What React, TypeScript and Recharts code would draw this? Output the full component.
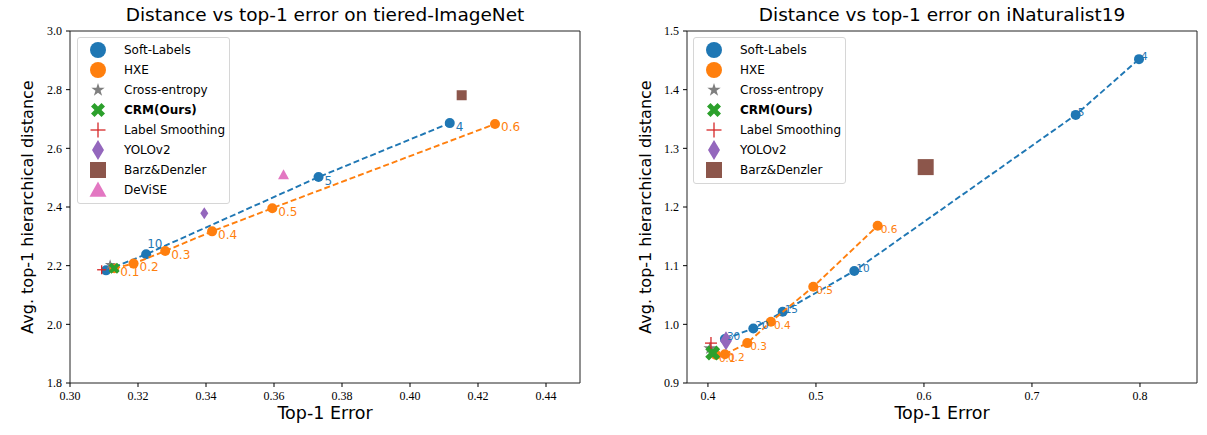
import React from 'react';
import { ScatterChart, Scatter, XAxis, YAxis, ReferenceArea } from 'recharts';

const COLORS = {
  blue: '#1f77b4', orange: '#ff7f0e', gray: '#7f7f7f', green: '#2ca02c',
  red: '#d62728', purple: '#9467bd', brown: '#8c564b', pink: '#e377c2',
};

// ---------- tiered-ImageNet ----------
const tieredSoftLabels = [
  { x: 0.3106, y: 2.184, label: '' },
  { x: 0.3224, y: 2.239, label: '10' },
  { x: 0.3731, y: 2.502, label: '5' },
  { x: 0.4117, y: 2.686, label: '4' },
];
const tieredHXE = [
  { x: 0.3130, y: 2.191, label: '0.1' },
  { x: 0.3187, y: 2.207, label: '0.2' },
  { x: 0.3280, y: 2.250, label: '0.3' },
  { x: 0.3418, y: 2.317, label: '0.4' },
  { x: 0.3595, y: 2.396, label: '0.5' },
  { x: 0.4250, y: 2.683, label: '0.6' },
];
const tieredCrossEntropy = [{ x: 0.3118, y: 2.203 }];
const tieredCRM = [{ x: 0.3130, y: 2.191 }];
const tieredLabelSmoothing = [{ x: 0.3093, y: 2.186 }];
const tieredYOLO = [{ x: 0.3395, y: 2.379 }];
const tieredBarz = [{ x: 0.4152, y: 2.781 }];
const tieredDeViSE = [{ x: 0.3628, y: 2.510 }];
const tieredXTicks = [0.30, 0.32, 0.34, 0.36, 0.38, 0.40, 0.42, 0.44];
const tieredYTicks = [1.8, 2.0, 2.2, 2.4, 2.6, 2.8, 3.0];

// ---------- iNaturalist19 ----------
const inatSoftLabels = [
  { x: 0.4157, y: 0.975, label: '30' },
  { x: 0.4420, y: 0.993, label: '20' },
  { x: 0.4692, y: 1.0215, label: '15' },
  { x: 0.5355, y: 1.091, label: '10' },
  { x: 0.7405, y: 1.357, label: '5' },
  { x: 0.7991, y: 1.452, label: '4' },
];
const inatHXE = [
  { x: 0.4074, y: 0.948, label: '0.1' },
  { x: 0.4157, y: 0.949, label: '0.2' },
  { x: 0.4364, y: 0.968, label: '0.3' },
  { x: 0.4583, y: 1.0045, label: '0.4' },
  { x: 0.4975, y: 1.064, label: '0.5' },
  { x: 0.5571, y: 1.168, label: '0.6' },
];
const inatCrossEntropy = [{ x: 0.4019, y: 0.959 }];
const inatCRM = [{ x: 0.4044, y: 0.951 }];
const inatLabelSmoothing = [{ x: 0.4028, y: 0.968 }];
const inatYOLO = [{ x: 0.4167, y: 0.972 }];
const inatBarz = [{ x: 0.6016, y: 1.268 }];
const inatXTicks = [0.4, 0.5, 0.6, 0.7, 0.8];
const inatYTicks = [0.9, 1.0, 1.1, 1.2, 1.3, 1.4, 1.5];

const SANS = '"DejaVu Sans", sans-serif';
const SERIF = '"Liberation Serif", serif';

type Kind = 'circle' | 'star' | 'x' | 'plus' | 'diamond' | 'square' | 'triangle';

function Glyph({ kind, color, cx, cy, s, w }: { kind: Kind; color: string; cx: number; cy: number; s: number; w?: number }) {
  const h = s / 2;
  if (kind === 'circle') return <circle cx={cx} cy={cy} r={h} fill={color} />;
  if (kind === 'square') return <rect x={cx - h} y={cy - h} width={s} height={s} fill={color} />;
  if (kind === 'triangle')
    return <polygon points={`${cx},${cy - h} ${cx + h},${cy + h * 0.8} ${cx - h},${cy + h * 0.8}`} fill={color} />;
  if (kind === 'diamond') {
    const hw = (w ?? s * 0.6) / 2;
    return <polygon points={`${cx},${cy - h} ${cx + hw},${cy} ${cx},${cy + h} ${cx - hw},${cy}`} fill={color} />;
  }
  if (kind === 'plus')
    return (
      <g stroke={color} strokeWidth={1.3}>
        <line x1={cx - h} y1={cy} x2={cx + h} y2={cy} />
        <line x1={cx} y1={cy - h} x2={cx} y2={cy + h} />
      </g>
    );
  if (kind === 'star') {
    const pts: string[] = [];
    for (let i = 0; i < 10; i++) {
      const r = i % 2 === 0 ? h : h * 0.382;
      const a = -Math.PI / 2 + (i * Math.PI) / 5;
      pts.push(`${cx + r * Math.cos(a)},${cy + r * Math.sin(a)}`);
    }
    return <polygon points={pts.join(' ')} fill={color} />;
  }
  // filled X
  const v = [[-0.25, -0.5], [0, -0.25], [0.25, -0.5], [0.5, -0.25], [0.25, 0], [0.5, 0.25], [0.25, 0.5], [0, 0.25], [-0.25, 0.5], [-0.5, 0.25], [-0.25, 0], [-0.5, -0.25]];
  return <polygon points={v.map(([a, b]) => `${cx + a * s},${cy + b * s}`).join(' ')} fill={color} />;
}

const shape = (kind: Kind, color: string, s: number, w?: number) => (p: any) =>
  <Glyph kind={kind} color={color} cx={p.cx} cy={p.cy} s={s} w={w} />;

const labelShape = (color: string, fontSize: number, dx: number, dy: number, special?: Record<string, [number, number]>) => (p: any) => {
  const lab = p.payload?.label;
  if (!lab) return <g />;
  const off = special && special[lab] ? special[lab] : [dx, dy];
  return (
    <text x={p.cx + off[0]} y={p.cy + off[1]} fill={color} fontSize={fontSize} fontFamily={SANS} dominantBaseline="central">
      {lab}
    </text>
  );
};

const tickStyle = { fontFamily: SERIF, fontSize: 12, fill: '#000' };
const dashLine = (color: string) => ({ stroke: color, strokeWidth: 1.9, strokeDasharray: '6 3' });

type LegendItem = { name: string; kind: Kind; color: string; s: number; w?: number; bold?: boolean };
const tieredLegend: LegendItem[] = [
  { name: 'Soft-Labels', kind: 'circle', color: COLORS.blue, s: 16 },
  { name: 'HXE', kind: 'circle', color: COLORS.orange, s: 16 },
  { name: 'Cross-entropy', kind: 'star', color: COLORS.gray, s: 14 },
  { name: 'CRM(Ours)', kind: 'x', color: COLORS.green, s: 14, bold: true },
  { name: 'Label Smoothing', kind: 'plus', color: COLORS.red, s: 15 },
  { name: 'YOLOv2', kind: 'diamond', color: COLORS.purple, s: 20, w: 12 },
  { name: 'Barz&Denzler', kind: 'square', color: COLORS.brown, s: 16 },
  { name: 'DeViSE', kind: 'triangle', color: COLORS.pink, s: 17 },
];
const inatLegend = tieredLegend.slice(0, 7);

function LegendBox({ items, left, top, width }: { items: LegendItem[]; left: number; top: number; width: number }) {
  return (
    <div
      style={{
        position: 'absolute', left, top, width, boxSizing: 'border-box',
        border: '1px solid #d6d6d6', borderRadius: 3, background: 'rgba(255,255,255,0.85)',
        paddingTop: 2, paddingBottom: 3,
      }}
    >
      {items.map((it) => (
        <div key={it.name} style={{ display: 'flex', alignItems: 'center', height: 20 }}>
          <svg width={42} height={20} style={{ flex: 'none' }}>
            <Glyph kind={it.kind} color={it.color} cx={20} cy={10} s={it.s} w={it.w} />
          </svg>
          <span style={{ fontFamily: SANS, fontSize: 12, fontWeight: it.bold ? 'bold' : 'normal', marginLeft: 4, color: '#000' }}>
            {it.name}
          </span>
        </div>
      ))}
    </div>
  );
}

function Text({ children, left, top, width, size, rotate }: any) {
  return (
    <div
      style={{
        position: 'absolute', left, top, width, height: 20, lineHeight: '20px', textAlign: 'center',
        fontFamily: SANS, fontSize: size, color: '#000', whiteSpace: 'nowrap',
        transform: rotate ? 'rotate(-90deg)' : undefined,
      }}
    >
      {children}
    </div>
  );
}

export default function App() {
  const tx: [number, number] = [0.30, 0.45];
  const ty: [number, number] = [1.8, 3.0];
  const ix: [number, number] = [0.3806, 0.8528];
  const iy: [number, number] = [0.9, 1.5];
  return (
    <div style={{ position: 'absolute', left: 0, top: 0, width: 1207, height: 435, background: '#fff', overflow: 'hidden' }}>
      <div style={{ position: 'absolute', left: 0, top: 0 }}>
        <ScatterChart width={600} height={435} margin={{ top: 31, right: 20, bottom: 22, left: 10 }}>
          <XAxis type="number" dataKey="x" domain={tx} ticks={tieredXTicks} allowDataOverflow axisLine={false}
            tickFormatter={(v: number) => v.toFixed(2)} tick={tickStyle} tickSize={4} tickMargin={4} height={30}
            tickLine={{ stroke: '#000' }} interval={0} />
          <YAxis type="number" dataKey="y" domain={ty} ticks={tieredYTicks} allowDataOverflow axisLine={false}
            tickFormatter={(v: number) => v.toFixed(1)} tick={tickStyle} tickSize={4} tickMargin={4} width={60}
            tickLine={{ stroke: '#000' }} interval={0} />
          <ReferenceArea x1={tx[0]} x2={tx[1]} y1={ty[0]} y2={ty[1]} fill="none" stroke="#222" strokeWidth={1} ifOverflow="visible" />
          <Scatter data={tieredSoftLabels} isAnimationActive={false} shape={shape('circle', COLORS.blue, 10)}
            line={dashLine(COLORS.blue)} lineType="joint" />
          <Scatter data={tieredHXE} isAnimationActive={false} shape={shape('circle', COLORS.orange, 10)}
            line={dashLine(COLORS.orange)} lineType="joint" />
          <Scatter data={tieredCrossEntropy} isAnimationActive={false} shape={shape('star', COLORS.gray, 11)} />
          <Scatter data={tieredCRM} isAnimationActive={false} shape={shape('x', COLORS.green, 11)} />
          <Scatter data={tieredLabelSmoothing} isAnimationActive={false} shape={shape('plus', COLORS.red, 9)} />
          <Scatter data={tieredYOLO} isAnimationActive={false} shape={shape('diamond', COLORS.purple, 12, 8)} />
          <Scatter data={tieredBarz} isAnimationActive={false} shape={shape('square', COLORS.brown, 10)} />
          <Scatter data={tieredDeViSE} isAnimationActive={false} shape={shape('triangle', COLORS.pink, 11)} />
          <Scatter data={tieredSoftLabels} isAnimationActive={false} shape={labelShape(COLORS.blue, 12, 6, 3.5, { '10': [1, -10] })} />
          <Scatter data={tieredHXE} isAnimationActive={false} shape={labelShape(COLORS.orange, 12, 6, 3.5)} />
        </ScatterChart>
      </div>
      <div style={{ position: 'absolute', left: 600, top: 0 }}>
        <ScatterChart width={607} height={435} margin={{ top: 31, right: 10, bottom: 22, left: 27 }}>
          <XAxis type="number" dataKey="x" domain={ix} ticks={inatXTicks} allowDataOverflow axisLine={false}
            tickFormatter={(v: number) => v.toFixed(1)} tick={tickStyle} tickSize={4} tickMargin={4} height={30}
            tickLine={{ stroke: '#000' }} interval={0} />
          <YAxis type="number" dataKey="y" domain={iy} ticks={inatYTicks} allowDataOverflow axisLine={false}
            tickFormatter={(v: number) => v.toFixed(1)} tick={tickStyle} tickSize={4} tickMargin={4} width={60}
            tickLine={{ stroke: '#000' }} interval={0} />
          <ReferenceArea x1={ix[0]} x2={ix[1]} y1={iy[0]} y2={iy[1]} fill="none" stroke="#222" strokeWidth={1} ifOverflow="visible" />
          <Scatter data={inatSoftLabels} isAnimationActive={false} shape={shape('circle', COLORS.blue, 10)}
            line={dashLine(COLORS.blue)} lineType="joint" />
          <Scatter data={inatHXE} isAnimationActive={false} shape={shape('circle', COLORS.orange, 10)}
            line={dashLine(COLORS.orange)} lineType="joint" />
          <Scatter data={inatCrossEntropy} isAnimationActive={false} shape={shape('star', COLORS.gray, 14)} />
          <Scatter data={inatCRM} isAnimationActive={false} shape={shape('x', COLORS.green, 15)} />
          <Scatter data={inatLabelSmoothing} isAnimationActive={false} shape={shape('plus', COLORS.red, 12)} />
          <Scatter data={inatYOLO} isAnimationActive={false} shape={shape('diamond', COLORS.purple, 19, 12)} />
          <Scatter data={inatBarz} isAnimationActive={false} shape={shape('square', COLORS.brown, 16)} />
          <Scatter data={inatSoftLabels} isAnimationActive={false} shape={labelShape(COLORS.blue, 10.5, 2, -3)} />
          <Scatter data={inatHXE} isAnimationActive={false} shape={labelShape(COLORS.orange, 10.5, 3, 3)} />
        </ScatterChart>
      </div>

      <Text left={0} top={5} width={650} size={18.5}>Distance vs top-1 error on tiered-ImageNet</Text>
      <Text left={600} top={5} width={684} size={18.5}>Distance vs top-1 error on iNaturalist19</Text>
      <Text left={70} top={403} width={510} size={17.5}>Top-1 Error</Text>
      <Text left={687} top={403} width={510} size={17.5}>Top-1 Error</Text>
      <Text left={28 - 175} top={207 - 10} width={350} size={16} rotate>Avg. top-1 hierarchical distance</Text>
      <Text left={646 - 175} top={207 - 10} width={350} size={16} rotate>Avg. top-1 hierarchical distance</Text>

      <LegendBox items={tieredLegend} left={77} top={37} width={153} />
      <LegendBox items={inatLegend} left={693} top={37} width={153} />
    </div>
  );
}
